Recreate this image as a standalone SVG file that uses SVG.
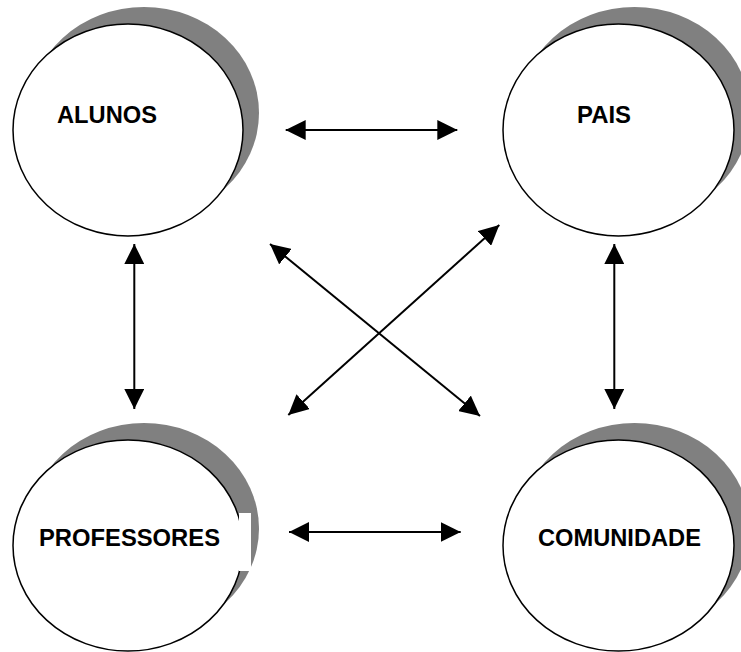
<svg xmlns="http://www.w3.org/2000/svg" width="741" height="652" viewBox="0 0 741 652">
<style>
.shadow{fill:#808080;stroke:none}
.node{fill:#ffffff;stroke:#000000;stroke-width:1.5}
.label{font-family:"Liberation Sans",Arial,sans-serif;font-weight:bold;font-size:23px;fill:#000000}
.conn{stroke:#000000;stroke-width:2;fill:none;marker-start:url(#ah);marker-end:url(#ah)}
</style>
<defs>
<marker id="ah" viewBox="0 0 20 20" refX="20" refY="10" markerWidth="20" markerHeight="20" markerUnits="userSpaceOnUse" orient="auto-start-reverse">
<path d="M0,0 L20,10 L0,20 Z" fill="#000000"/>
</marker>
</defs>
<rect width="741" height="652" fill="#ffffff"/>
<g id="alunos">
<ellipse class="shadow" cx="144" cy="113" rx="115" ry="106"/>
<ellipse class="node" cx="128" cy="130" rx="115" ry="106"/>
<text class="label" x="57" y="123" textLength="100" lengthAdjust="spacingAndGlyphs">ALUNOS</text>
</g>
<g id="pais">
<ellipse class="shadow" cx="634.5" cy="113" rx="115.5" ry="106"/>
<ellipse class="node" cx="618.5" cy="130" rx="115.5" ry="106"/>
<text class="label" x="577" y="123" textLength="54" lengthAdjust="spacingAndGlyphs">PAIS</text>
</g>
<g id="professores">
<ellipse class="shadow" cx="144" cy="528.5" rx="115" ry="105.5"/>
<ellipse class="node" cx="128" cy="545.5" rx="115" ry="105.5"/>
<rect x="239" y="513" width="12" height="58" fill="#ffffff"/>
<text class="label" x="39" y="546" textLength="181" lengthAdjust="spacingAndGlyphs">PROFESSORES</text>
</g>
<g id="comunidade">
<ellipse class="shadow" cx="634.5" cy="528.5" rx="115.5" ry="105.5"/>
<ellipse class="node" cx="618.5" cy="545.5" rx="115.5" ry="105.5"/>
<text class="label" x="538" y="546" textLength="163" lengthAdjust="spacingAndGlyphs">COMUNIDADE</text>
</g>
<g id="connectors">
<line class="conn" x1="285.7" y1="130" x2="457.3" y2="130"/>
<line class="conn" x1="289" y1="532" x2="460.7" y2="532"/>
<line class="conn" x1="134.3" y1="244" x2="134.3" y2="409"/>
<line class="conn" x1="614.3" y1="244" x2="614.3" y2="409"/>
<line class="conn" x1="270" y1="244" x2="480" y2="416"/>
<line class="conn" x1="499.3" y1="225" x2="288.3" y2="415"/>
</g>
</svg>
